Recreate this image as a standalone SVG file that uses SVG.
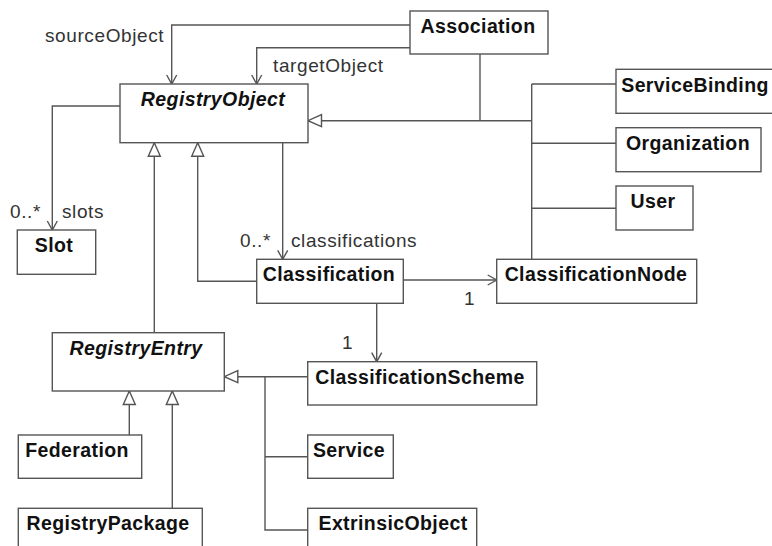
<svg xmlns="http://www.w3.org/2000/svg" width="772" height="546" viewBox="0 0 772 546">
<style>
.box{fill:#fff;stroke:#555;stroke-width:1.4}
.t{font-family:"Liberation Sans",Arial,sans-serif;font-weight:bold;font-size:19.5px;letter-spacing:0.4px;fill:#111;text-anchor:middle}
.i{font-style:italic}
.lbl{font-family:"Liberation Sans",Arial,sans-serif;font-size:19px;letter-spacing:0.6px;fill:#333}
.c{fill:none;stroke:#555;stroke-width:1.4}
</style>
<defs>
<marker id="gen" markerWidth="16" markerHeight="14" refX="14" refY="6.5" orient="auto" markerUnits="userSpaceOnUse" overflow="visible"><path d="M0.5,0.5 L14,6.5 L0.5,12.5 Z" fill="#fff" stroke="#555" stroke-width="1.4"/></marker>
<marker id="open" markerWidth="12" markerHeight="12" refX="9" refY="5" orient="auto" markerUnits="userSpaceOnUse" overflow="visible"><path d="M0,0 L9,5 L0,10" fill="none" stroke="#555" stroke-width="1.4"/></marker>
</defs>
<rect width="772" height="546" fill="#fff"/>
<g id="connectors">
<path class="c" d="M410,25 H171.7 V84" marker-end="url(#open)"/>
<path class="c" d="M410,47.7 H256.7 V84" marker-end="url(#open)"/>
<path class="c" d="M480,54 V120.7"/>
<path class="c" d="M531.7,120.7 H308" marker-end="url(#gen)"/>
<path class="c" d="M531.7,84 V259.3"/>
<path class="c" d="M616,84 H531.7"/>
<path class="c" d="M616,143.3 H531.7"/>
<path class="c" d="M616,208.3 H531.7"/>
<path class="c" d="M120,106 H52.3 V230" marker-end="url(#open)"/>
<path class="c" d="M154.3,332.7 V142.7" marker-end="url(#gen)"/>
<path class="c" d="M256.7,281.3 H197.7 V142.7" marker-end="url(#gen)"/>
<path class="c" d="M282.7,142.7 V259.3" marker-end="url(#open)"/>
<path class="c" d="M403.3,280 H496.7" marker-end="url(#open)"/>
<path class="c" d="M376.7,303.3 V361.7" marker-end="url(#open)"/>
<path class="c" d="M307.7,376.7 H224.3" marker-end="url(#gen)"/>
<path class="c" d="M265,376.7 V530 H307.7"/>
<path class="c" d="M307.7,456.7 H265"/>
<path class="c" d="M129.3,435 V391" marker-end="url(#gen)"/>
<path class="c" d="M172.3,508.3 V391" marker-end="url(#gen)"/>
<text class="lbl" x="45" y="42">sourceObject</text>
<text class="lbl" x="273" y="72">targetObject</text>
<text class="lbl" x="10" y="218">0..*</text>
<text class="lbl" x="62" y="218">slots</text>
<text class="lbl" x="240" y="247">0..*</text>
<text class="lbl" x="291" y="247">classifications</text>
<text class="lbl" x="464" y="305">1</text>
<text class="lbl" x="342" y="349">1</text>
</g>
<g id="Association"><rect class="box" x="410" y="11" width="138" height="43"/><text class="t" x="478" y="33">Association</text></g>
<g id="RegistryObject"><rect class="box" x="120" y="84" width="188" height="58.7"/><text class="t i" x="213" y="106">RegistryObject</text></g>
<g id="ServiceBinding"><rect class="box" x="616" y="69.3" width="160" height="44"/><text class="t" x="695" y="92">ServiceBinding</text></g>
<g id="Organization"><rect class="box" x="616" y="127.7" width="145" height="44"/><text class="t" x="688" y="150">Organization</text></g>
<g id="User"><rect class="box" x="616" y="186" width="77" height="44"/><text class="t" x="653" y="208">User</text></g>
<g id="Slot"><rect class="box" x="17.3" y="230" width="78.4" height="44.3"/><text class="t" x="54" y="252">Slot</text></g>
<g id="Classification"><rect class="box" x="256.7" y="259.3" width="146.6" height="44"/><text class="t" x="329" y="281">Classification</text></g>
<g id="ClassificationNode"><rect class="box" x="496.7" y="259.3" width="200" height="44"/><text class="t" x="596" y="281">ClassificationNode</text></g>
<g id="RegistryEntry"><rect class="box" x="52.3" y="332.7" width="172" height="58.3"/><text class="t i" x="136" y="355">RegistryEntry</text></g>
<g id="ClassificationScheme"><rect class="box" x="307.7" y="361.7" width="229" height="43.3"/><text class="t" x="420" y="384">ClassificationScheme</text></g>
<g id="Federation"><rect class="box" x="18.3" y="435" width="123.4" height="43.3"/><text class="t" x="77" y="457">Federation</text></g>
<g id="Service"><rect class="box" x="307.7" y="435" width="85.6" height="43.3"/><text class="t" x="349" y="457">Service</text></g>
<g id="RegistryPackage"><rect class="box" x="18.3" y="508.3" width="184" height="50"/><text class="t" x="108" y="530">RegistryPackage</text></g>
<g id="ExtrinsicObject"><rect class="box" x="307.7" y="508.3" width="169" height="50"/><text class="t" x="393" y="530">ExtrinsicObject</text></g>
</svg>
